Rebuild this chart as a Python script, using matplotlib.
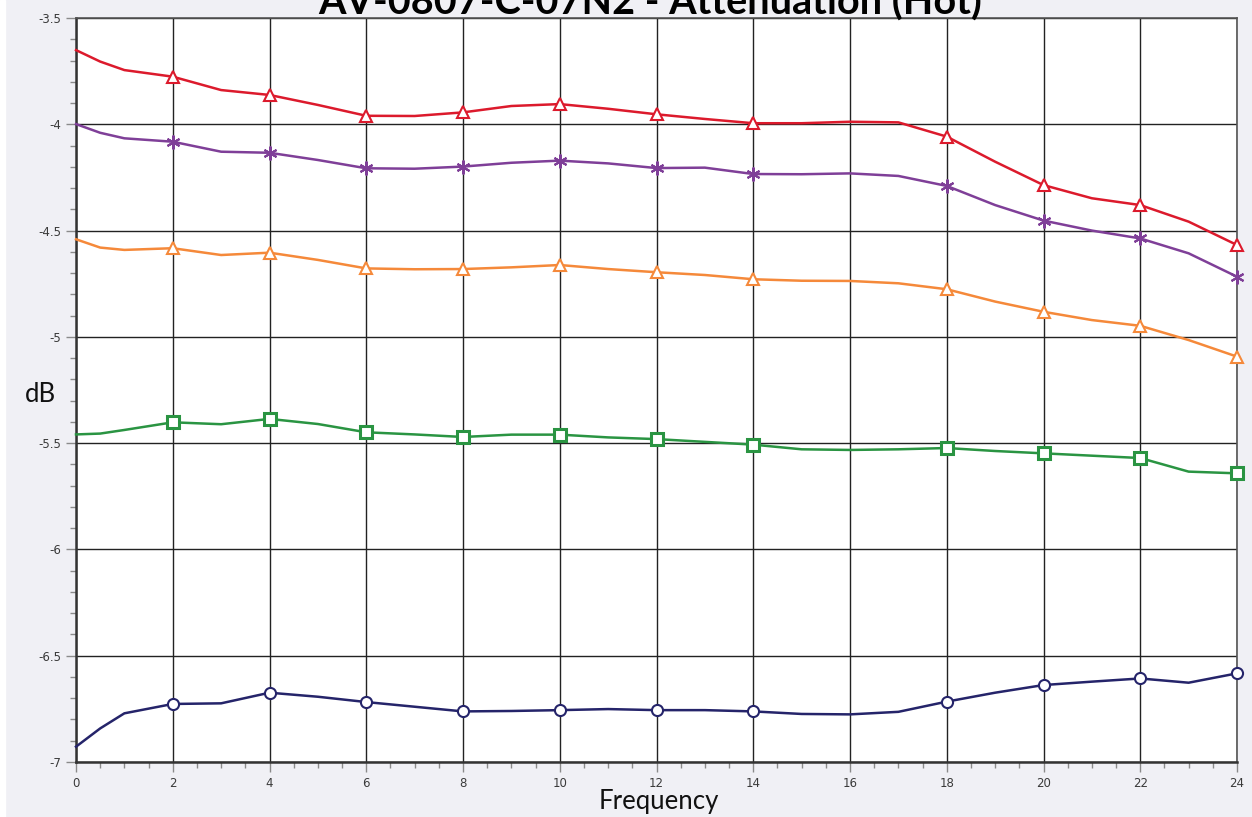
import numpy as np
import matplotlib.pyplot as plt
from matplotlib.ticker import MultipleLocator

# frequency points (values read at every 1 unit, plus a half step near 0)
freq = [0, 0.5, 1, 2, 3, 4, 5, 6, 7, 8, 9, 10, 11, 12, 13, 14, 15, 16, 17, 18, 19, 20, 21, 22, 23, 24]

red = [-3.651, -3.705, -3.745, -3.776, -3.839, -3.862, -3.909, -3.960, -3.961, -3.944, -3.914, -3.905, -3.927,
       -3.953, -3.975, -3.995, -3.995, -3.988, -3.991, -4.058, -4.176, -4.286, -4.348, -4.380, -4.458, -4.568]
purple = [-3.999, -4.040, -4.066, -4.082, -4.129, -4.134, -4.168, -4.207, -4.209, -4.199, -4.181, -4.171, -4.184,
          -4.206, -4.204, -4.234, -4.235, -4.231, -4.243, -4.290, -4.380, -4.453, -4.500, -4.537, -4.607, -4.717]
orange = [-4.541, -4.580, -4.591, -4.583, -4.615, -4.604, -4.638, -4.678, -4.682, -4.681, -4.673, -4.662, -4.681,
          -4.696, -4.709, -4.729, -4.736, -4.737, -4.748, -4.776, -4.834, -4.882, -4.921, -4.948, -5.015, -5.093]
green = [-5.459, -5.455, -5.438, -5.402, -5.411, -5.386, -5.410, -5.449, -5.459, -5.471, -5.460, -5.460, -5.473,
         -5.481, -5.494, -5.507, -5.529, -5.532, -5.529, -5.523, -5.537, -5.548, -5.559, -5.570, -5.634, -5.642]
navy = [-6.928, -6.842, -6.771, -6.727, -6.724, -6.674, -6.693, -6.718, -6.740, -6.762, -6.760, -6.756, -6.751,
        -6.756, -6.756, -6.762, -6.774, -6.776, -6.764, -6.716, -6.674, -6.638, -6.622, -6.607, -6.627, -6.583]

# frequencies that carry a marker
marker_freqs = [2, 4, 6, 8, 10, 12, 14, 18, 20, 22, 24]

title = 'AV-0807-C-07N2 - Attenuation (Hot)'

marker_idx = [freq.index(f) for f in marker_freqs]

fig = plt.figure(figsize=(12.52, 8.17), dpi=100, facecolor='#f0f0f5')
ax = fig.add_axes([76 / 1252, 1 - 762 / 817, (1237 - 76) / 1252, (762 - 18) / 817])
ax.set_facecolor('white')

# thin white strip on the left edge of the picture
fig.patches.append(plt.Rectangle((0, 0), 5 / 1252, 1, transform=fig.transFigure, color='white', zorder=0))

series = [
    (red, '#dc1a2c', '^', 8),
    (purple, '#7f3f98', (6, 2, 0), 10),
    (orange, '#f5893a', '^', 8),
    (green, '#2a9442', 's', 8),
    (navy, '#25246a', 'o', 8),
]
for vals, col, mk, ms in series:
    ax.plot(freq, vals, color=col, lw=1.8, marker=mk, markersize=ms, markevery=marker_idx,
            markerfacecolor='white', markeredgecolor=col, markeredgewidth=2.2 if mk == 's' else 1.5,
            zorder=3, clip_on=False)

ax.set_xlim(0, 24)
ax.set_ylim(-7, -3.5)
ax.xaxis.set_minor_locator(MultipleLocator(0.5))
ax.yaxis.set_minor_locator(MultipleLocator(0.1))
ax.set_yticks(np.arange(-7, -3.49, 0.5))
ax.set_yticklabels(['-7', '-6.5', '-6', '-5.5', '-5', '-4.5', '-4', '-3.5'])
ax.set_xticks(range(0, 25, 2))
ax.set_xticklabels([str(v) for v in range(0, 25, 2)])

ax.grid(True, which='major', color='#222222', lw=1.0)
ax.tick_params(which='both', direction='out', color='#8a8a8a', labelsize=8.5, labelcolor='#3a3a3a')
ax.tick_params(which='major', length=7, width=1)
ax.tick_params(which='minor', length=4, width=1)

for side in ['top', 'right']:
    ax.spines[side].set_color('#555555')
    ax.spines[side].set_linewidth(1.2)
for side in ['left', 'bottom']:
    ax.spines[side].set_color('#333333')
    ax.spines[side].set_linewidth(1.8)

fig.text(650 / 1252, 1 - 15 / 817, title, ha='center', va='baseline',
         fontfamily='Lato', fontweight='bold', fontsize=28.5, color='black')
fig.text(40 / 1252, 1 - 394 / 817, 'dB', ha='center', va='center',
         fontfamily='Lato', fontsize=18.5, color='#111111')
fig.text(659 / 1252, 1 - 802 / 817, 'Frequency', ha='center', va='center',
         fontfamily='Lato', fontsize=18.5, color='#111111')

fig.savefig('out.png', dpi=100, facecolor=fig.get_facecolor())
